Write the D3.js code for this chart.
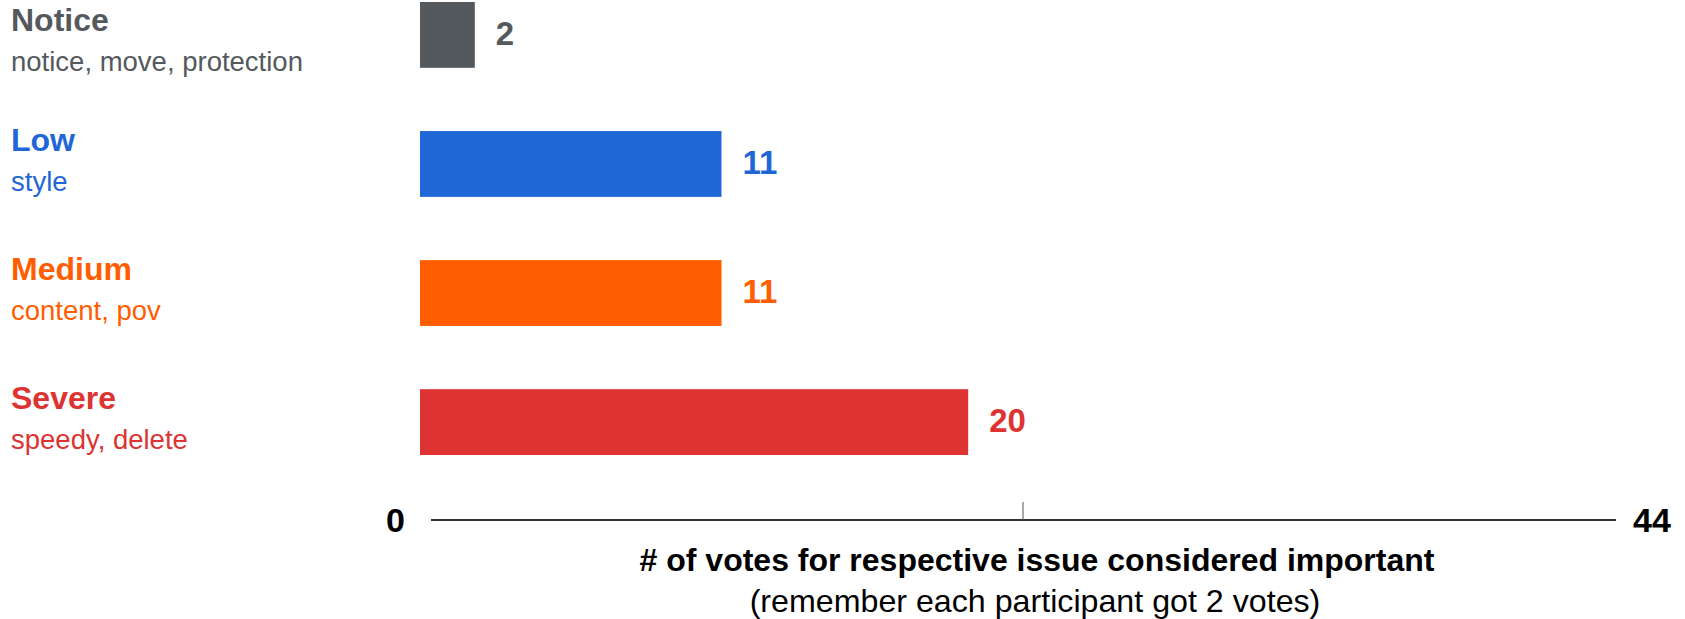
<!DOCTYPE html>
<html>
<head>
<meta charset="utf-8">
<script src="https://cdn.jsdelivr.net/npm/d3@7"></script>
<style>
  html, body { margin: 0; padding: 0; background: #fff; }
  svg { display: block; font-family: "Liberation Sans", Arial, Helvetica, sans-serif; }
</style>
</head>
<body>
<svg id="chart" width="1685" height="619"></svg>
<script>
const categories = ["Notice", "Low", "Medium", "Severe"];
const subLabels = ["notice, move, protection", "style", "content, pov", "speedy, delete"];
const votes = [2, 11, 11, 20];
const colors = ["#54595d", "#1f67d6", "#ff5d00", "#dd3333"];
const axisTicks = [0, 44];
const axisMidTick = [22];
const axisTitle = "# of votes for respective issue considered important";
const axisSubtitle = "(remember each participant got 2 votes)";

const svg = d3.select("#chart");

const x = d3.scaleLinear().domain([0, 44]).range([420, 1626]);
const y = d3.scaleBand().domain(categories).range([2, 455]).paddingInner(0.49).paddingOuter(0);

const data = categories.map((c, i) => ({ cat: c, sub: subLabels[i], v: votes[i], color: colors[i] }));

// bars
svg.append("g").selectAll("rect").data(data).join("rect")
  .attr("x", x(0))
  .attr("y", d => y(d.cat))
  .attr("width", d => x(d.v) - x(0))
  .attr("height", y.bandwidth())
  .attr("fill", d => d.color);

// value labels
svg.append("g").selectAll("text").data(data).join("text")
  .attr("x", d => x(d.v) + 21)
  .attr("y", d => y(d.cat) + y.bandwidth() / 2)
  .attr("dy", "0.3em")
  .attr("fill", d => d.color)
  .attr("font-size", 33)
  .attr("font-weight", "bold")
  .text(d => d.v);

// category labels
const lab = svg.append("g").selectAll("g").data(data).join("g")
  .attr("transform", d => {
    const c = y(d.cat) + y.bandwidth() / 2;
    return `translate(11,${Math.max(c - 13, 31)})`;
  });
lab.append("text")
  .attr("fill", d => d.color)
  .attr("font-size", 32)
  .attr("font-weight", "bold")
  .text(d => d.cat);
lab.append("text")
  .attr("y", 40)
  .attr("fill", d => d.color)
  .attr("font-size", 27.5)
  .text(d => d.sub);

// axis
const axisY = 520;
const ax = svg.append("g");
ax.append("line")
  .attr("x1", x(0) + 11).attr("x2", x(44) - 10)
  .attr("y1", axisY).attr("y2", axisY)
  .attr("stroke", "#333").attr("stroke-width", 2);
ax.selectAll(".mid").data(axisMidTick).join("line")
  .attr("class", "mid")
  .attr("x1", d => x(d)).attr("x2", d => x(d))
  .attr("y1", axisY - 18).attr("y2", axisY)
  .attr("stroke", "#555").attr("stroke-width", 1);
ax.selectAll(".tl").data(axisTicks).join("text")
  .attr("class", "tl")
  .attr("x", (d, i) => i === 0 ? x(d) - 15 : x(d) + 7)
  .attr("y", axisY)
  .attr("dy", "0.36em")
  .attr("text-anchor", (d, i) => i === 0 ? "end" : "start")
  .attr("font-size", 34)
  .attr("font-weight", "bold")
  .attr("fill", "#000")
  .text(d => d);

svg.append("text")
  .attr("x", 1037).attr("y", 571)
  .attr("text-anchor", "middle")
  .attr("font-size", 32)
  .attr("font-weight", "bold")
  .attr("fill", "#000")
  .text(axisTitle);
svg.append("text")
  .attr("x", 1035).attr("y", 612)
  .attr("text-anchor", "middle")
  .attr("font-size", 32.2)
  .attr("fill", "#000")
  .text(axisSubtitle);
</script>
</body>
</html>
